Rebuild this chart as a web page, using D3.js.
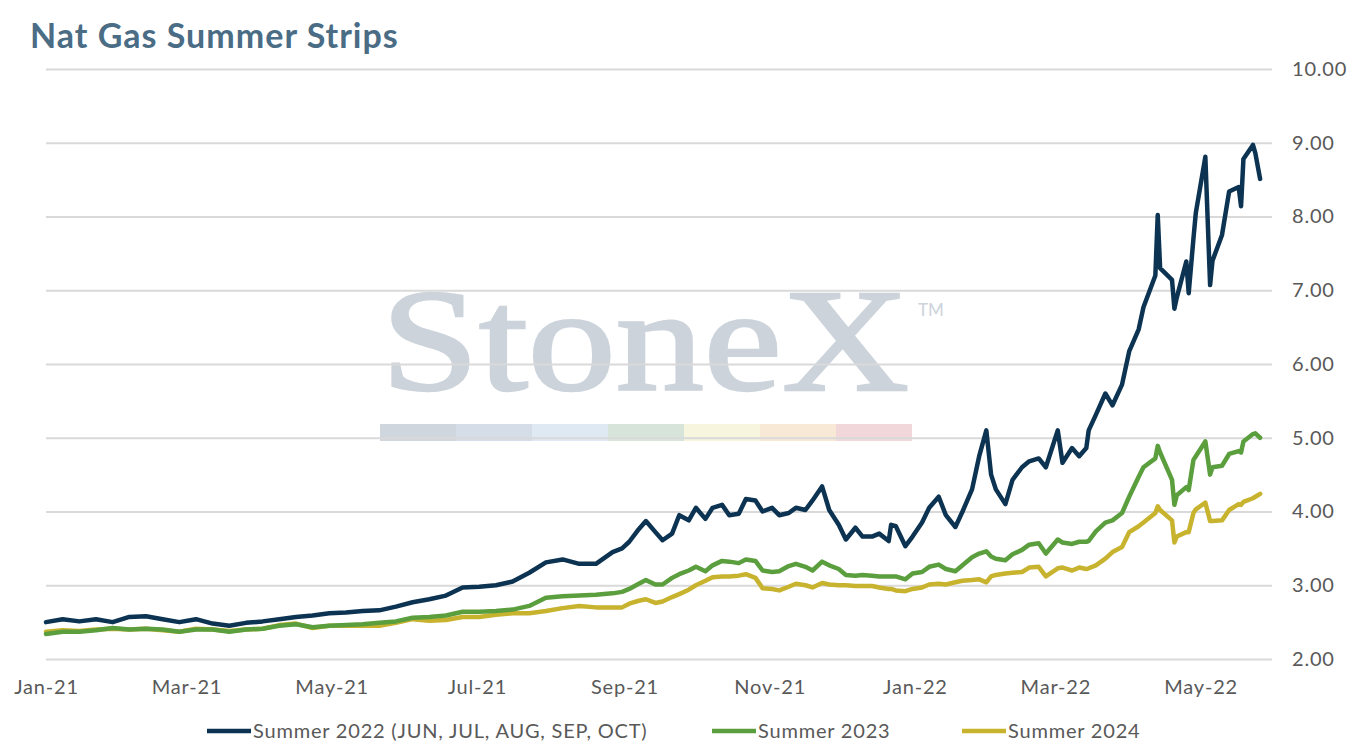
<!DOCTYPE html>
<html lang="en">
<head>
<meta charset="UTF-8">
<title>Nat Gas Summer Strips</title>
<script src="https://d3js.org/d3.v7.min.js"></script>
<style>
    body { margin: 0; background: #ffffff; }
    .titulo { font-family: Lato, sans-serif; font-weight: 700; font-size: 34px; letter-spacing: 1px; fill: #4a6c85; }
    .eje .tick text { font-family: Lato, sans-serif; font-size: 20px; letter-spacing: 0.8px; fill: #595959; }
    .leyenda { font-family: Lato, sans-serif; font-size: 20px; letter-spacing: 0.8px; fill: #595959; }
</style>
</head>
<body>
<svg width="1350" height="750"></svg>

<script>

    // fechas (cierres, lectura aproximada del grafico)
    const fechas = [
        "2021-01-01", "2021-01-08", "2021-01-15", "2021-01-22", "2021-01-29",
        "2021-02-05", "2021-02-12", "2021-02-19", "2021-02-26",
        "2021-03-05", "2021-03-12", "2021-03-19", "2021-03-26",
        "2021-04-02", "2021-04-09", "2021-04-16", "2021-04-23", "2021-04-30",
        "2021-05-07", "2021-05-14", "2021-05-21", "2021-05-28",
        "2021-06-04", "2021-06-11", "2021-06-18", "2021-06-25",
        "2021-07-02", "2021-07-09", "2021-07-16", "2021-07-23", "2021-07-30",
        "2021-08-06", "2021-08-13", "2021-08-20", "2021-08-27", "2021-08-31",
        "2021-09-03", "2021-09-07", "2021-09-10", "2021-09-14", "2021-09-17", "2021-09-21", "2021-09-24", "2021-09-28",
        "2021-10-01", "2021-10-05", "2021-10-08", "2021-10-12", "2021-10-15", "2021-10-19", "2021-10-22", "2021-10-26", "2021-10-29",
        "2021-11-02", "2021-11-05", "2021-11-09", "2021-11-12", "2021-11-16", "2021-11-19", "2021-11-23", "2021-11-26", "2021-11-30",
        "2021-12-03", "2021-12-07", "2021-12-10", "2021-12-14", "2021-12-17", "2021-12-21", "2021-12-22", "2021-12-24", "2021-12-28", "2021-12-31",
        "2022-01-04", "2022-01-07", "2022-01-11", "2022-01-14", "2022-01-18", "2022-01-21", "2022-01-25", "2022-01-28", "2022-01-31",
        "2022-02-02", "2022-02-04", "2022-02-08", "2022-02-11", "2022-02-15", "2022-02-18", "2022-02-22", "2022-02-25",
        "2022-03-02", "2022-03-04", "2022-03-08", "2022-03-11", "2022-03-14", "2022-03-15", "2022-03-18", "2022-03-22", "2022-03-25", "2022-03-29",
        "2022-04-01", "2022-04-05", "2022-04-07", "2022-04-12", "2022-04-13", "2022-04-14", "2022-04-19", "2022-04-20", "2022-04-21", "2022-04-25", "2022-04-26", "2022-04-28", "2022-04-29",
        "2022-05-03", "2022-05-05", "2022-05-06", "2022-05-10", "2022-05-13", "2022-05-17", "2022-05-18", "2022-05-19", "2022-05-23", "2022-05-24", "2022-05-26"
    ]

    const summer2022 = [
        2.50, 2.54, 2.51, 2.54, 2.50,
        2.57, 2.58, 2.54, 2.50,
        2.54, 2.48, 2.45, 2.49,
        2.51, 2.54, 2.57, 2.59, 2.62,
        2.63, 2.65, 2.66, 2.71,
        2.77, 2.81, 2.86, 2.97,
        2.98, 3.00, 3.05, 3.17, 3.31,
        3.35, 3.29, 3.29, 3.45, 3.50,
        3.59, 3.76, 3.87, 3.72, 3.61, 3.70, 3.95, 3.88,
        4.05, 3.90, 4.05, 4.09, 3.95, 3.97, 4.17, 4.15, 4.00,
        4.05, 3.95, 3.98, 4.05, 4.02, 4.15, 4.34, 4.02, 3.82,
        3.62, 3.78, 3.66, 3.66, 3.70, 3.60, 3.82, 3.80, 3.53, 3.66,
        3.85, 4.05, 4.20, 3.95, 3.79, 4.00, 4.30, 4.75, 5.10,
        4.50, 4.30, 4.10, 4.43, 4.60, 4.68, 4.72, 4.60,
        5.10, 4.66, 4.86, 4.75, 4.86, 5.10, 5.31, 5.60, 5.44, 5.72,
        6.17, 6.47, 6.77, 7.20, 8.02, 7.30, 7.14, 6.75, 6.90, 7.39, 6.96, 7.70, 8.05,
        8.81, 7.07, 7.40, 7.75, 8.34, 8.40, 8.14, 8.78, 8.97, 8.86, 8.51
    ]

    const summer2023 = [
        2.34, 2.37, 2.37, 2.39, 2.42,
        2.40, 2.41, 2.40, 2.37,
        2.40, 2.40, 2.37, 2.40,
        2.41, 2.45, 2.47, 2.43, 2.45,
        2.46, 2.47, 2.49, 2.51,
        2.56, 2.57, 2.59, 2.64,
        2.64, 2.65, 2.67, 2.72, 2.83,
        2.85, 2.86, 2.87, 2.89, 2.91,
        2.95, 3.02, 3.07, 3.01, 3.01, 3.10, 3.15, 3.20,
        3.25, 3.19, 3.27, 3.33, 3.32, 3.30, 3.35, 3.33, 3.20,
        3.18, 3.19, 3.26, 3.29, 3.25, 3.20, 3.32, 3.27, 3.22,
        3.14, 3.13, 3.14, 3.13, 3.12, 3.12, 3.12, 3.12, 3.08, 3.16,
        3.18, 3.25, 3.28, 3.22, 3.19, 3.27, 3.38, 3.43, 3.46,
        3.39, 3.36, 3.34, 3.42, 3.48, 3.55, 3.57, 3.43,
        3.62, 3.58, 3.56, 3.59, 3.59, 3.60, 3.73, 3.85, 3.88, 3.98,
        4.20, 4.47, 4.60, 4.72, 4.89, 4.80, 4.43, 4.09, 4.22, 4.33, 4.29, 4.70, 4.75,
        4.95, 4.50, 4.60, 4.62, 4.78, 4.82, 4.80, 4.95, 5.05, 5.06, 5.00
    ]

    const summer2024 = [
        2.37, 2.39, 2.38, 2.40, 2.41,
        2.40, 2.41, 2.39, 2.37,
        2.41, 2.40, 2.38, 2.40,
        2.41, 2.46, 2.48, 2.42, 2.45,
        2.45, 2.45, 2.45, 2.49,
        2.54, 2.52, 2.53, 2.57,
        2.57, 2.60, 2.62, 2.62, 2.65,
        2.69, 2.72, 2.70, 2.70, 2.70,
        2.75, 2.79, 2.81, 2.76, 2.78, 2.84, 2.88, 2.94,
        3.00, 3.06, 3.11, 3.12, 3.12, 3.13, 3.15, 3.10, 2.96,
        2.95, 2.93, 2.98, 3.02, 3.00, 2.97, 3.03, 3.01, 3.00,
        3.00, 2.99, 2.99, 2.99, 2.97, 2.95, 2.95, 2.93, 2.92, 2.95,
        2.97, 3.01, 3.02, 3.01, 3.04, 3.06, 3.07, 3.08, 3.04,
        3.12, 3.14, 3.16, 3.17, 3.18, 3.24, 3.25, 3.12,
        3.23, 3.24, 3.20, 3.24, 3.22, 3.23, 3.27, 3.36, 3.45, 3.52,
        3.72, 3.80, 3.85, 3.98, 4.07, 4.02, 3.88, 3.58, 3.66, 3.72, 3.72, 3.98, 4.03,
        4.12, 3.87, 3.87, 3.88, 4.02, 4.10, 4.09, 4.13, 4.18, 4.20, 4.24
    ]

    const nombres = ["Summer 2022 (JUN, JUL, AUG, SEP, OCT)", "Summer 2023", "Summer 2024"]
    const colores = ["#0c3352", "#5b9e3d", "#c8b32f"]

    const yTicks = [2, 3, 4, 5, 6, 7, 8, 9, 10]
    const xTicks = ["2021-01-01", "2021-03-01", "2021-05-01", "2021-07-01", "2021-09-01", "2021-11-01",
        "2022-01-01", "2022-03-01", "2022-05-01"]

    const marcaColores = ["#d0d6de", "#d4dde8", "#dfe9f3", "#d6e4da", "#f7f5de", "#f8e8d6", "#f1d7d9"]

    const parseFecha = d3.timeParse("%Y-%m-%d")
    const series = [summer2022, summer2023, summer2024].map(function (vals, k) {
        return {
            nombre: nombres[k],
            color: colores[k],
            puntos: vals.map(function (v, i) {
                return {fecha: parseFecha(fechas[i]), valor: v}
            })
        }
    })

    const svg = d3.select("svg")

    const x = d3.scaleTime()
        .domain([parseFecha("2021-01-01"), parseFecha("2022-05-31")])
        .range([46, 1272])

    const y = d3.scaleLinear()
        .domain([2, 10])
        .range([659, 69])

    // titulo
    svg.append("text")
        .attr("class", "titulo")
        .attr("x", 30)
        .attr("y", 48)
        .text("Nat Gas Summer Strips")

    // marca de agua
    const marca = svg.append("g")
    marca.append("text")
        .attr("x", 381)
        .attr("y", 390)
        .attr("textLength", 528)
        .attr("lengthAdjust", "spacingAndGlyphs")
        .style("font-family", "'Liberation Serif', serif")
        .style("font-size", "146px")
        .style("fill", "#ccd3db")
        .style("stroke", "#ccd3db")
        .style("stroke-width", 2.5)
        .text("StoneX")
    marca.append("text")
        .attr("x", 918)
        .attr("y", 316)
        .style("font-family", "Lato, sans-serif")
        .style("font-size", "17px")
        .style("fill", "#ccd3db")
        .text("TM")
    marca.selectAll("rect")
        .data(marcaColores)
        .enter()
        .append("rect")
        .attr("x", function (d, i) { return 380 + i * 76; })
        .attr("y", 424)
        .attr("width", 76)
        .attr("height", 17)
        .style("fill", function (d) { return d; })

    // lineas de grilla
    const grilla = svg.append("g")
        .attr("transform", "translate(46,0)")
        .call(d3.axisRight(y).tickValues(yTicks).tickSize(1226).tickFormat(""))
    grilla.select(".domain").remove()
    grilla.selectAll("line").attr("stroke", "#d9d9d9").attr("stroke-width", 2)

    // eje y (derecha)
    const ejeY = svg.append("g")
        .attr("class", "eje")
        .attr("transform", "translate(1272,0)")
        .call(d3.axisRight(y).tickValues(yTicks).tickSize(0).tickPadding(20).tickFormat(d3.format(".2f")))
    ejeY.select(".domain").remove()

    // eje x
    const ejeX = svg.append("g")
        .attr("class", "eje")
        .attr("transform", "translate(0,659)")
        .call(d3.axisBottom(x).tickValues(xTicks.map(parseFecha)).tickSize(0).tickPadding(21)
            .tickFormat(d3.timeFormat("%b-%y")))
    ejeX.select(".domain").remove()

    // series
    const linea = d3.line()
        .x(function (d) { return x(d.fecha); })
        .y(function (d) { return y(d.valor); })

    svg.selectAll(".serie")
        .data(series.slice().reverse())
        .enter()
        .append("path")
        .attr("class", "serie")
        .attr("d", function (d) { return linea(d.puntos); })
        .attr("fill", "none")
        .attr("stroke", function (d) { return d.color; })
        .attr("stroke-width", 4.5)
        .attr("stroke-linejoin", "round")
        .attr("stroke-linecap", "round")

    // leyenda
    const leyendaX = [207, 712, 962]
    const leyenda = svg.selectAll(".item")
        .data(series)
        .enter()
        .append("g")
        .attr("class", "item")
        .attr("transform", function (d, i) { return "translate(" + leyendaX[i] + ",731)"; })
    leyenda.append("line")
        .attr("x1", 0)
        .attr("x2", 44)
        .attr("stroke", function (d) { return d.color; })
        .attr("stroke-width", 4.5)
    leyenda.append("text")
        .attr("class", "leyenda")
        .attr("x", 46)
        .attr("dy", "0.35em")
        .text(function (d) { return d.nombre; })

</script>
</body>
</html>
